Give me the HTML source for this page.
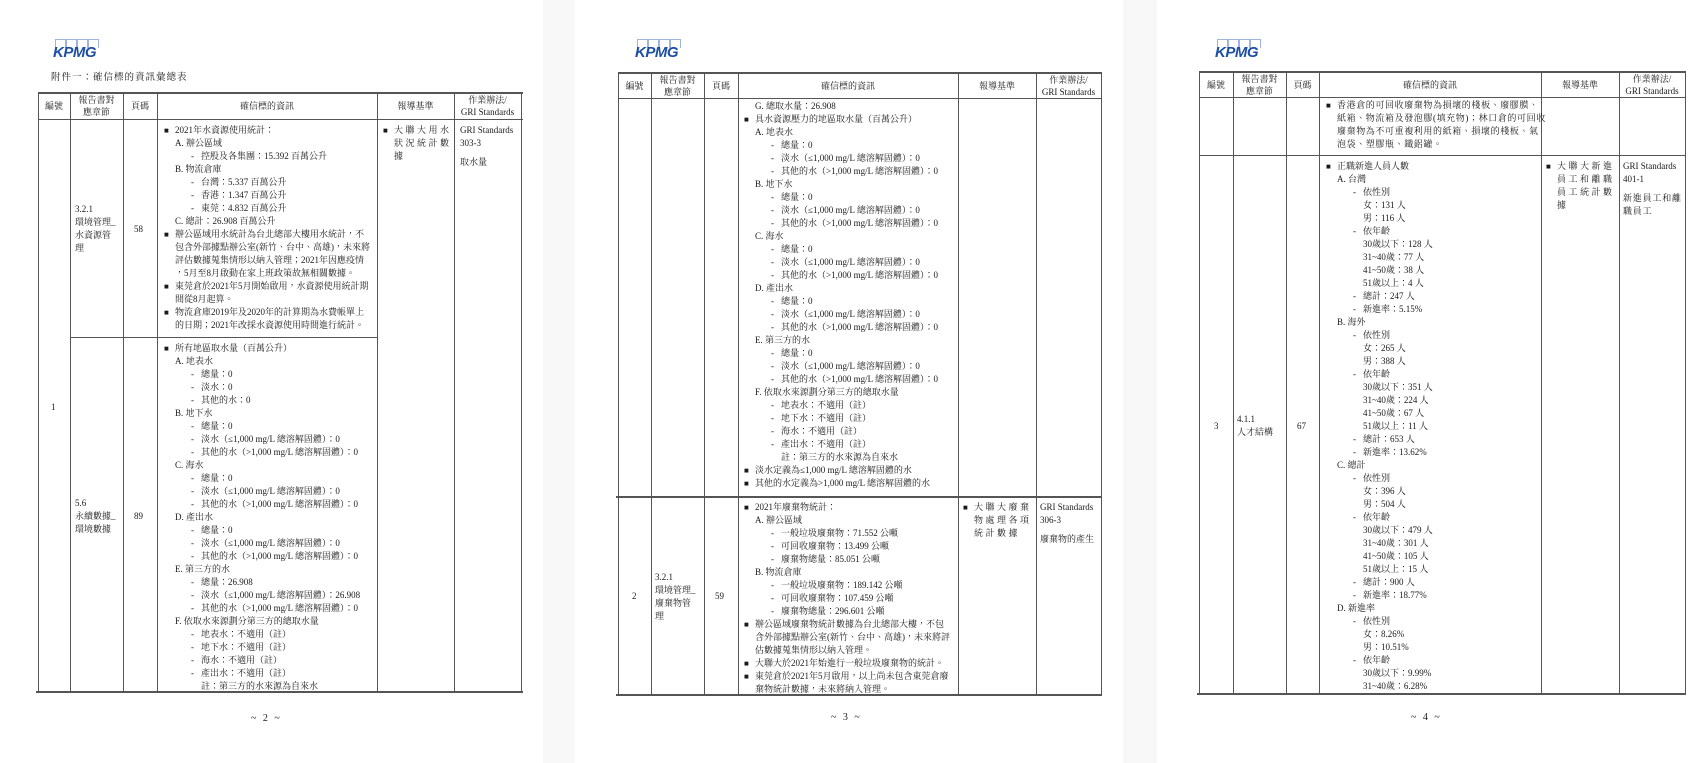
<!DOCTYPE html>
<html><head><meta charset="utf-8">
<style>
*{margin:0;padding:0;box-sizing:border-box}
body{width:1698px;height:763px;background:#f8f8f9;position:relative;overflow:hidden;font-family:"Liberation Serif","Noto Serif CJK TC","Noto Serif CJK SC",serif;color:#1a1a1a;font-size:9px}
.pg{position:absolute;top:0;height:763px;background:#fff}
.h{position:absolute;background:#555;height:1px}
.v{position:absolute;background:#555;width:1px}
.ab{position:absolute;white-space:nowrap;line-height:13px}
.blk{position:absolute;white-space:nowrap;line-height:13px}
.blk div{position:relative;height:13px}
.b,.c,.a{padding-left:11px}
.b::before{content:"■";position:absolute;left:0;top:0;font-size:8px}
.d{padding-left:37px}
.d::before{content:"-";position:absolute;left:27px;top:0}
.e{padding-left:37px}
.hd{position:absolute;text-align:center;line-height:12px;font-size:9px}
.logo{position:absolute;width:44px;height:20px}
.logo .bx{position:absolute;top:0;width:11px;height:9px;border:1px solid #9fb4dc;border-bottom:none}
.logo span{position:absolute;left:0;top:5px;font-family:"Liberation Sans",sans-serif;font-weight:bold;font-style:italic;color:#1d4fa3;font-size:15px;letter-spacing:-0.5px}
.pn{position:absolute;font-size:10px;letter-spacing:2px}
.sp{letter-spacing:2.5px}
</style></head><body>

<div class="pg" style="left:0;width:543px"></div>
<div class="pg" style="left:575px;width:548px"></div>
<div class="pg" style="left:1157px;width:541px"></div>

<!-- PAGE 1 -->
<div class="logo" style="left:53px;top:39px"><div class="bx" style="left:2px"></div><div class="bx" style="left:13px"></div><div class="bx" style="left:24px"></div><div class="bx" style="left:35px"></div><span>KPMG</span></div>
<div class="ab" style="left:51px;top:72px;font-size:9.5px;letter-spacing:1px">附件一：確信標的資訊彙總表</div>
<div class="h" style="left:38px;top:92px;width:485px;height:1.5px"></div>
<div class="h" style="left:38px;top:119px;width:485px"></div>
<div class="h" style="left:70px;top:337px;width:308px"></div>
<div class="h" style="left:36px;top:691px;width:487px;height:1.5px"></div>
<div class="v" style="left:38px;top:92px;height:600px"></div>
<div class="v" style="left:70px;top:92px;height:600px"></div>
<div class="v" style="left:123px;top:92px;height:600px"></div>
<div class="v" style="left:157px;top:92px;height:600px"></div>
<div class="v" style="left:377px;top:92px;height:600px"></div>
<div class="v" style="left:454px;top:92px;height:600px"></div>
<div class="v" style="left:521px;top:92px;height:600px"></div>
<div class="hd" style="left:38px;top:100px;width:32px">編號</div>
<div class="hd" style="left:70px;top:94px;width:53px">報告書對<br>應章節</div>
<div class="hd" style="left:123px;top:100px;width:34px">頁碼</div>
<div class="hd" style="left:157px;top:100px;width:220px">確信標的資訊</div>
<div class="hd" style="left:377px;top:100px;width:77px">報導基準</div>
<div class="hd" style="left:454px;top:94px;width:67px">作業辦法/<br>GRI Standards</div>
<div class="ab" style="left:51px;top:401px">1</div>
<div class="ab" style="left:75px;top:203px">3.2.1<br>環境管理_<br>水資源管<br>理</div>
<div class="ab" style="left:134px;top:223px">58</div>
<div class="ab" style="left:75px;top:497px">5.6<br>永續數據_<br>環境數據</div>
<div class="ab" style="left:134px;top:510px">89</div>
<div class="blk sp" style="left:383px;top:124px"><div class="b">大聯大用水</div><div class="c">狀況統計數</div><div class="c">據</div></div>
<div class="ab" style="left:460px;top:124px">GRI Standards<br>303-3</div>
<div class="ab" style="left:460px;top:156px">取水量</div>
<div class="blk" style="left:164px;top:124px">
<div class="b">2021年水資源使用統計：</div>
<div class="a">A. 辦公區域</div>
<div class="d">控股及各集團：15.392 百萬公升</div>
<div class="a">B. 物流倉庫</div>
<div class="d">台灣：5.337 百萬公升</div>
<div class="d">香港：1.347 百萬公升</div>
<div class="d">東莞：4.832 百萬公升</div>
<div class="a">C. 總計：26.908 百萬公升</div>
<div class="b">辦公區域用水統計為台北總部大樓用水統計，不</div>
<div class="c">包含外部據點辦公室(新竹、台中、高雄)，未來將</div>
<div class="c">評估數據蒐集情形以納入管理；2021年因應疫情</div>
<div class="c">，5月至8月啟動在家上班政策故無相關數據。</div>
<div class="b">東莞倉於2021年5月開始啟用，水資源使用統計期</div>
<div class="c">間從8月起算。</div>
<div class="b">物流倉庫2019年及2020年的計算期為水費帳單上</div>
<div class="c">的日期；2021年改採水資源使用時間進行統計。</div>
</div>
<div class="blk" style="left:164px;top:342px">
<div class="b">所有地區取水量（百萬公升）</div>
<div class="a">A. 地表水</div>
<div class="d">總量：0</div>
<div class="d">淡水：0</div>
<div class="d">其他的水：0</div>
<div class="a">B. 地下水</div>
<div class="d">總量：0</div>
<div class="d">淡水（≤1,000 mg/L 總溶解固體）：0</div>
<div class="d">其他的水（&gt;1,000 mg/L 總溶解固體）：0</div>
<div class="a">C. 海水</div>
<div class="d">總量：0</div>
<div class="d">淡水（≤1,000 mg/L 總溶解固體）：0</div>
<div class="d">其他的水（&gt;1,000 mg/L 總溶解固體）：0</div>
<div class="a">D. 產出水</div>
<div class="d">總量：0</div>
<div class="d">淡水（≤1,000 mg/L 總溶解固體）：0</div>
<div class="d">其他的水（&gt;1,000 mg/L 總溶解固體）：0</div>
<div class="a">E. 第三方的水</div>
<div class="d">總量：26.908</div>
<div class="d">淡水（≤1,000 mg/L 總溶解固體）：26.908</div>
<div class="d">其他的水（&gt;1,000 mg/L 總溶解固體）：0</div>
<div class="a">F. 依取水來源劃分第三方的總取水量</div>
<div class="d">地表水：不適用（註）</div>
<div class="d">地下水：不適用（註）</div>
<div class="d">海水：不適用（註）</div>
<div class="d">產出水：不適用（註）</div>
<div class="e">註：第三方的水來源為自來水</div>
</div>
<div class="pn" style="left:251px;top:713px">~ 2 ~</div>

<!-- PAGE 2 -->
<div class="logo" style="left:635px;top:39px"><div class="bx" style="left:2px"></div><div class="bx" style="left:13px"></div><div class="bx" style="left:24px"></div><div class="bx" style="left:35px"></div><span>KPMG</span></div>
<div class="h" style="left:618px;top:72px;width:484px;height:1.5px"></div>
<div class="h" style="left:618px;top:98px;width:484px"></div>
<div class="h" style="left:616px;top:496px;width:486px;height:1.5px"></div>
<div class="h" style="left:616px;top:694px;width:486px;height:1.5px"></div>
<div class="v" style="left:618px;top:72px;height:622px"></div>
<div class="v" style="left:651px;top:72px;height:622px"></div>
<div class="v" style="left:704px;top:72px;height:622px"></div>
<div class="v" style="left:738px;top:72px;height:622px"></div>
<div class="v" style="left:958px;top:72px;height:622px"></div>
<div class="v" style="left:1036px;top:72px;height:622px"></div>
<div class="v" style="left:1101px;top:72px;height:622px"></div>
<div class="hd" style="left:618px;top:80px;width:33px">編號</div>
<div class="hd" style="left:651px;top:74px;width:53px">報告書對<br>應章節</div>
<div class="hd" style="left:704px;top:80px;width:34px">頁碼</div>
<div class="hd" style="left:738px;top:80px;width:220px">確信標的資訊</div>
<div class="hd" style="left:958px;top:80px;width:78px">報導基準</div>
<div class="hd" style="left:1036px;top:74px;width:65px">作業辦法/<br>GRI Standards</div>
<div class="blk" style="left:744px;top:100px">
<div class="a">G. 總取水量：26.908</div>
<div class="b">具水資源壓力的地區取水量（百萬公升）</div>
<div class="a">A. 地表水</div>
<div class="d">總量：0</div>
<div class="d">淡水（≤1,000 mg/L 總溶解固體）：0</div>
<div class="d">其他的水（&gt;1,000 mg/L 總溶解固體）：0</div>
<div class="a">B. 地下水</div>
<div class="d">總量：0</div>
<div class="d">淡水（≤1,000 mg/L 總溶解固體）：0</div>
<div class="d">其他的水（&gt;1,000 mg/L 總溶解固體）：0</div>
<div class="a">C. 海水</div>
<div class="d">總量：0</div>
<div class="d">淡水（≤1,000 mg/L 總溶解固體）：0</div>
<div class="d">其他的水（&gt;1,000 mg/L 總溶解固體）：0</div>
<div class="a">D. 產出水</div>
<div class="d">總量：0</div>
<div class="d">淡水（≤1,000 mg/L 總溶解固體）：0</div>
<div class="d">其他的水（&gt;1,000 mg/L 總溶解固體）：0</div>
<div class="a">E. 第三方的水</div>
<div class="d">總量：0</div>
<div class="d">淡水（≤1,000 mg/L 總溶解固體）：0</div>
<div class="d">其他的水（&gt;1,000 mg/L 總溶解固體）：0</div>
<div class="a">F. 依取水來源劃分第三方的總取水量</div>
<div class="d">地表水：不適用（註）</div>
<div class="d">地下水：不適用（註）</div>
<div class="d">海水：不適用（註）</div>
<div class="d">產出水：不適用（註）</div>
<div class="e">註：第三方的水來源為自來水</div>
<div class="b">淡水定義為≤1,000 mg/L 總溶解固體的水</div>
<div class="b">其他的水定義為&gt;1,000 mg/L 總溶解固體的水</div>
</div>
<div class="ab" style="left:632px;top:590px">2</div>
<div class="ab" style="left:655px;top:571px">3.2.1<br>環境管理_<br>廢棄物管<br>理</div>
<div class="ab" style="left:715px;top:590px">59</div>
<div class="blk" style="left:744px;top:501px">
<div class="b">2021年廢棄物統計：</div>
<div class="a">A. 辦公區域</div>
<div class="d">一般垃圾廢棄物：71.552 公噸</div>
<div class="d">可回收廢棄物：13.499 公噸</div>
<div class="d">廢棄物總量：85.051 公噸</div>
<div class="a">B. 物流倉庫</div>
<div class="d">一般垃圾廢棄物：189.142 公噸</div>
<div class="d">可回收廢棄物：107.459 公噸</div>
<div class="d">廢棄物總量：296.601 公噸</div>
<div class="b">辦公區域廢棄物統計數據為台北總部大樓，不包</div>
<div class="c">含外部據點辦公室(新竹、台中、高雄)，未來將評</div>
<div class="c">估數據蒐集情形以納入管理。</div>
<div class="b">大聯大於2021年始進行一般垃圾廢棄物的統計。</div>
<div class="b">東莞倉於2021年5月啟用，以上尚未包含東莞倉廢</div>
<div class="c">棄物統計數據，未來將納入管理。</div>
</div>
<div class="blk sp" style="left:963px;top:501px"><div class="b">大聯大廢棄</div><div class="c">物處理各項</div><div class="c">統計數據</div></div>
<div class="ab" style="left:1040px;top:501px">GRI Standards<br>306-3</div>
<div class="ab" style="left:1040px;top:533px">廢棄物的產生</div>
<div class="pn" style="left:831px;top:712px">~ 3 ~</div>

<!-- PAGE 3 -->
<div class="logo" style="left:1215px;top:39px"><div class="bx" style="left:2px"></div><div class="bx" style="left:13px"></div><div class="bx" style="left:24px"></div><div class="bx" style="left:35px"></div><span>KPMG</span></div>
<div class="h" style="left:1199px;top:71px;width:487px;height:1.5px"></div>
<div class="h" style="left:1199px;top:97px;width:487px"></div>
<div class="h" style="left:1199px;top:155px;width:487px"></div>
<div class="h" style="left:1197px;top:693px;width:489px;height:1.5px"></div>
<div class="v" style="left:1199px;top:71px;height:622px"></div>
<div class="v" style="left:1233px;top:71px;height:622px"></div>
<div class="v" style="left:1286px;top:71px;height:622px"></div>
<div class="v" style="left:1319px;top:71px;height:622px"></div>
<div class="v" style="left:1541px;top:71px;height:622px"></div>
<div class="v" style="left:1619px;top:71px;height:622px"></div>
<div class="v" style="left:1685px;top:71px;height:622px"></div>
<div class="hd" style="left:1199px;top:79px;width:34px">編號</div>
<div class="hd" style="left:1233px;top:73px;width:53px">報告書對<br>應章節</div>
<div class="hd" style="left:1286px;top:79px;width:33px">頁碼</div>
<div class="hd" style="left:1319px;top:79px;width:222px">確信標的資訊</div>
<div class="hd" style="left:1541px;top:79px;width:78px">報導基準</div>
<div class="hd" style="left:1619px;top:73px;width:66px">作業辦法/<br>GRI Standards</div>
<div class="blk" style="left:1326px;top:99px;letter-spacing:0.6px">
<div class="b">香港倉的可回收廢棄物為損壞的棧板、廢膠膜、</div>
<div class="c">紙箱、物流箱及發泡膠(填充物)；林口倉的可回收</div>
<div class="c">廢棄物為不可重複利用的紙箱、損壞的棧板、氣</div>
<div class="c">泡袋、塑膠瓶、鐵鋁罐。</div>
</div>
<div class="ab" style="left:1214px;top:420px">3</div>
<div class="ab" style="left:1237px;top:413px">4.1.1<br>人才結構</div>
<div class="ab" style="left:1297px;top:420px">67</div>
<div class="blk" style="left:1326px;top:160px">
<div class="b">正職新進人員人數</div>
<div class="a">A. 台灣</div>
<div class="d">依性別</div>
<div class="e">女：131 人</div>
<div class="e">男：116 人</div>
<div class="d">依年齡</div>
<div class="e">30歲以下：128 人</div>
<div class="e">31~40歲：77 人</div>
<div class="e">41~50歲：38 人</div>
<div class="e">51歲以上：4 人</div>
<div class="d">總計：247 人</div>
<div class="d">新進率：5.15%</div>
<div class="a">B. 海外</div>
<div class="d">依性別</div>
<div class="e">女：265 人</div>
<div class="e">男：388 人</div>
<div class="d">依年齡</div>
<div class="e">30歲以下：351 人</div>
<div class="e">31~40歲：224 人</div>
<div class="e">41~50歲：67 人</div>
<div class="e">51歲以上：11 人</div>
<div class="d">總計：653 人</div>
<div class="d">新進率：13.62%</div>
<div class="a">C. 總計</div>
<div class="d">依性別</div>
<div class="e">女：396 人</div>
<div class="e">男：504 人</div>
<div class="d">依年齡</div>
<div class="e">30歲以下：479 人</div>
<div class="e">31~40歲：301 人</div>
<div class="e">41~50歲：105 人</div>
<div class="e">51歲以上：15 人</div>
<div class="d">總計：900 人</div>
<div class="d">新進率：18.77%</div>
<div class="a">D. 新進率</div>
<div class="d">依性別</div>
<div class="e">女：8.26%</div>
<div class="e">男：10.51%</div>
<div class="d">依年齡</div>
<div class="e">30歲以下：9.99%</div>
<div class="e">31~40歲：6.28%</div>
</div>
<div class="blk sp" style="left:1546px;top:160px"><div class="b">大聯大新進</div><div class="c">員工和離職</div><div class="c">員工統計數</div><div class="c">據</div></div>
<div class="ab" style="left:1623px;top:160px">GRI Standards<br>401-1</div>
<div class="ab" style="left:1623px;top:192px;letter-spacing:0.8px">新進員工和離<br>職員工</div>
<div class="pn" style="left:1411px;top:712px">~ 4 ~</div>

</body></html>
